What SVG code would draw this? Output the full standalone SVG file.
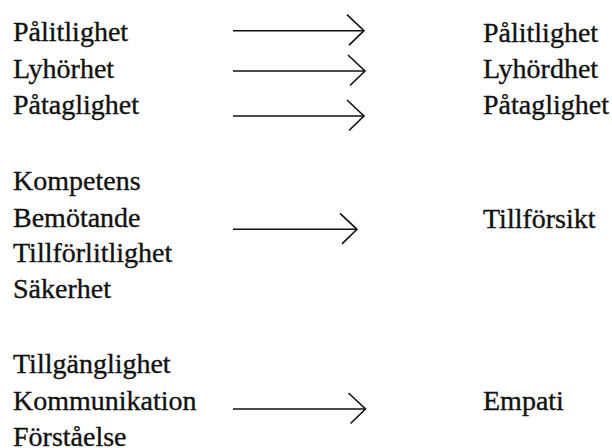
<svg xmlns="http://www.w3.org/2000/svg" width="612" height="448" viewBox="0 0 612 448">
<style>
text{font-family:'Liberation Serif','Times New Roman',serif;font-size:28px;fill:#111;stroke:#111;stroke-width:0.35}
.c{stroke:#111;stroke-width:1.6;fill:none}
</style>
<defs>
<marker id="chev" markerUnits="userSpaceOnUse" markerWidth="20" markerHeight="34" refX="17" refY="16" orient="auto" overflow="visible">
<path d="M0,0 L17,16 L2,30.5" fill="none" stroke="#111" stroke-width="1.6"/>
</marker>
</defs>
<rect width="612" height="448" fill="#fff"/>
<g id="connectors">
<line class="c" x1="233" y1="30.7" x2="364" y2="30.7" marker-end="url(#chev)"/>
<line class="c" x1="233" y1="71" x2="365" y2="71" marker-end="url(#chev)"/>
<line class="c" x1="233" y1="116" x2="364" y2="116" marker-end="url(#chev)"/>
<line class="c" x1="233" y1="229.3" x2="357" y2="229.3" marker-end="url(#chev)"/>
<line class="c" x1="233" y1="409" x2="365.5" y2="409" marker-end="url(#chev)"/>
</g>
<g id="left1"><text x="13" y="40.5">Pålitlighet</text></g>
<g id="left2"><text x="13" y="78">Lyhörhet</text></g>
<g id="left3"><text x="13" y="114">Påtaglighet</text></g>
<g id="left4"><text x="13" y="190">Kompetens</text><text x="13" y="226.5">Bemötande</text><text x="13" y="262">Tillförlitlighet</text><text x="13" y="298">Säkerhet</text></g>
<g id="left5"><text x="13" y="373">Tillgänglighet</text><text x="13" y="410">Kommunikation</text><text x="13" y="445.5">Förståelse</text></g>
<g id="right1"><text x="483" y="41.5">Pålitlighet</text></g>
<g id="right2"><text x="483" y="78">Lyhördhet</text></g>
<g id="right3"><text x="483" y="113.5">Påtaglighet</text></g>
<g id="right4"><text x="483" y="227.5">Tillförsikt</text></g>
<g id="right5"><text x="483" y="410">Empati</text></g>
</svg>
